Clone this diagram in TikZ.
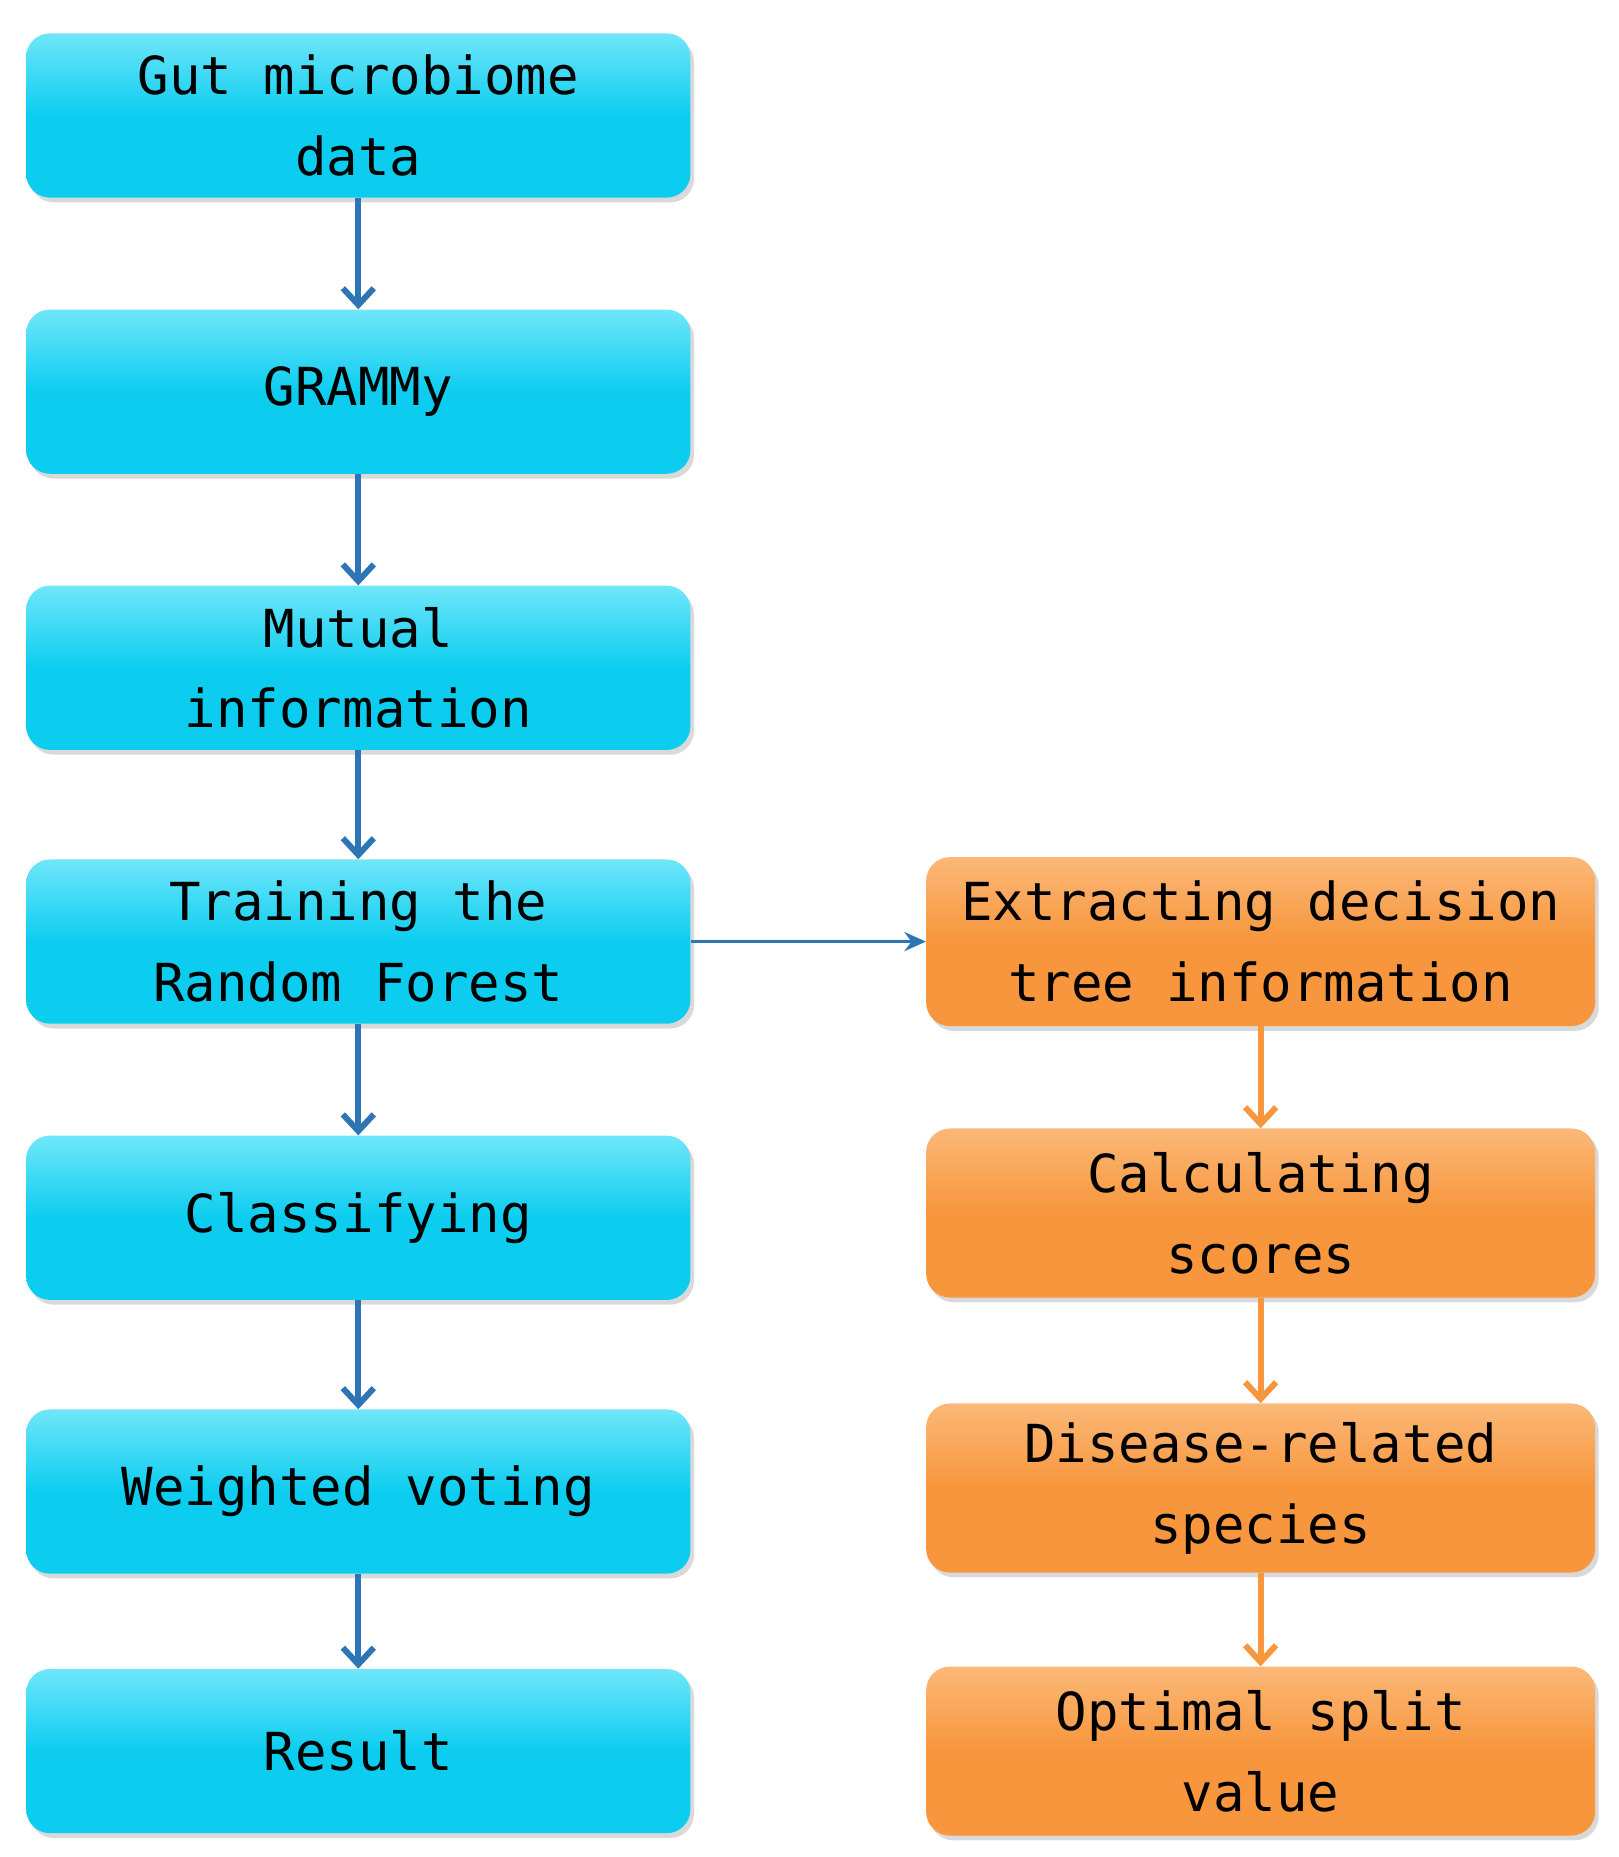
\documentclass[tikz,border=0pt]{standalone}
\usepackage{fontspec}
\setmonofont{DejaVu Sans Mono}
\usetikzlibrary{shadows,arrows.meta}
\definecolor{cy}{HTML}{0CCDEF}
\definecolor{cyt}{HTML}{6FE6FA}
\definecolor{og}{HTML}{F7963C}
\definecolor{ogt}{HTML}{FBB878}
\definecolor{ab}{HTML}{2E75B6}
\begin{document}
\begin{tikzpicture}[x=1pt,y=-1pt,
 box/.style={rounded corners=20pt,minimum width=558pt,minimum height=138pt,
   align=center,font=\ttfamily\fontsize{44}{68}\selectfont,drop shadow={shadow xshift=3pt,shadow yshift=-4pt,opacity=0.3}},
 lb/.style={box,top color=cyt,bottom color=cy,middle color=cy},
 rb/.style={box,minimum width=562pt,minimum height=142pt,top color=ogt,bottom color=og,middle color=og},
 ba/.style={-{Straight Barb[length=14pt,width=26pt]},line width=5pt,ab},
 oa/.style={-{Straight Barb[length=14pt,width=26pt]},line width=5pt,og}]
\useasboundingbox (0,0) rectangle (1360,1560);
\node[lb] (a) at (301,97) {Gut microbiome\\data};
\node[lb] (b) at (301,329) {GRAMMy};
\node[lb] (c) at (301,561) {Mutual\\information};
\node[lb] (d) at (301,791) {Training the\\Random Forest};
\node[lb] (e) at (301,1023) {Classifying};
\node[lb] (f) at (301,1253) {Weighted voting};
\node[lb] (g) at (301,1471) {Result};
\node[rb] (h) at (1059,791) {Extracting decision\\tree information};
\node[rb] (i) at (1059,1019) {Calculating\\scores};
\node[rb] (j) at (1059,1250) {Disease-related\\species};
\node[rb] (k) at (1059,1471) {Optimal split\\value};
\foreach \u/\v in {a/b,b/c,c/d,d/e,e/f,f/g} \draw[ba] (\u.south) -- (\v.north);
\draw[-{Stealth[length=18pt,width=16pt]},line width=3pt,ab] (d.east) -- (h.west);
\foreach \u/\v in {h/i,i/j,j/k} \draw[oa] (\u.south) -- (\v.north);
\end{tikzpicture}
\end{document}
